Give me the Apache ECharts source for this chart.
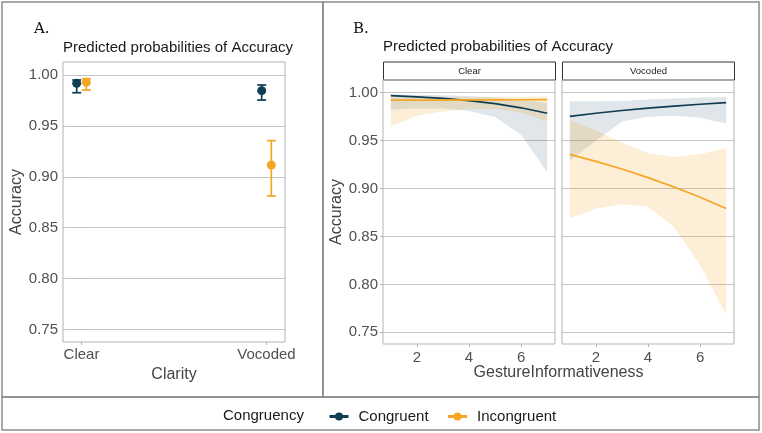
<!DOCTYPE html>
<html><head><meta charset="utf-8">
<script src="https://cdn.jsdelivr.net/npm/echarts@6/dist/echarts.min.js"></script>
<style>html,body{margin:0;padding:0;background:#fff}#c{width:762px;height:433px}</style>
</head><body><div id="c"></div>
<script>
// ---- Panel A data ----
const clarity = ['Clear', 'Vocoded'];
const accCongruent      = [0.9918, 0.9846];
const accCongruentLow   = [0.9826, 0.9754];
const accCongruentHigh  = [0.9951, 0.9902];
const accIncongruent     = [0.9928, 0.9116];
const accIncongruentLow  = [0.9853, 0.8811];
const accIncongruentHigh = [0.9964, 0.9355];

// ---- Panel B data ----
const gesture = [1, 2, 3, 4, 5, 6, 7];
const clearCongFit  = [0.9969, 0.9957, 0.9941, 0.9918, 0.9886, 0.9843, 0.9786];
const clearCongLow  = [0.9823, 0.9835, 0.9835, 0.9810, 0.9747, 0.9560, 0.9172];
const clearCongHigh = [0.9985, 0.9980, 0.9975, 0.9965, 0.9950, 0.9925, 0.9895];
const clearIncFit   = [0.9922, 0.9923, 0.9924, 0.9925, 0.9926, 0.9927, 0.9928];
const clearIncLow   = [0.9648, 0.9760, 0.9805, 0.9830, 0.9830, 0.9790, 0.9700];
const clearIncHigh  = [0.9960, 0.9957, 0.9955, 0.9955, 0.9955, 0.9957, 0.9960];
const vocCongFit    = [0.9753, 0.9786, 0.9815, 0.9840, 0.9861, 0.9880, 0.9896];
const vocCongLow    = [0.9290, 0.9500, 0.9700, 0.9750, 0.9760, 0.9740, 0.9680];
const vocCongHigh   = [0.9910, 0.9910, 0.9915, 0.9930, 0.9940, 0.9950, 0.9955];
const vocIncFit     = [0.9357, 0.9284, 0.9204, 0.9114, 0.9016, 0.8909, 0.8792];
const vocIncLow     = [0.8690, 0.8790, 0.8840, 0.8810, 0.8600, 0.8200, 0.7680];
const vocIncHigh    = [0.9710, 0.9605, 0.9480, 0.9370, 0.9330, 0.9360, 0.9420];

// ---- tick labels ----
const yTicks = [0.75, 0.80, 0.85, 0.90, 0.95, 1.00];
const gestureTicks = [2, 4, 6];
const clarityTicks = [0, 1];

const C_CONG = '#0f3d52';
const C_INC = '#f5a623';
const DODGE = 0.026;
const TICK_COLOR = '#505050';
const GRID_COLOR = '#c6c6c6';
const BORDER = '#b3b3b3';
const FONT = 'Liberation Sans, Arial, sans-serif';

function yAxisCfg(idx, withLabels, name) {
  return {
    type: 'value', gridIndex: idx,
    min: idx === 0 ? 0.7376 : 0.7378, max: idx === 0 ? 1.0128 : 1.0133,
    axisLine: {show: false},
    axisTick: {show: withLabels, customValues: yTicks, length: 3, lineStyle: {color: BORDER}},
    axisLabel: {show: withLabels, customValues: yTicks, formatter: v => v.toFixed(2),
      color: TICK_COLOR, fontSize: 15, fontFamily: FONT, margin: 5},
    splitLine: {show: true, lineStyle: {color: GRID_COLOR, width: 1.2}},
    name: name || '', nameLocation: 'middle', nameGap: 36,
    nameTextStyle: {color: '#444', fontSize: 16, fontFamily: FONT}
  };
}
function xGestureAxis(idx) {
  return {
    type: 'value', gridIndex: idx, min: 0.7, max: 7.3,
    axisLine: {show: false},
    axisTick: {show: true, customValues: gestureTicks, length: 3, lineStyle: {color: BORDER}},
    axisLabel: {customValues: gestureTicks, color: TICK_COLOR, fontSize: 15, fontFamily: FONT, margin: 6},
    splitLine: {show: false}
  };
}

function ribbon(gridIdx, xs, lo, hi, color, opacity) {
  return {
    type: 'custom', name: 'ribbon', xAxisIndex: gridIdx, yAxisIndex: gridIdx, silent: true, z: 1,
    data: xs.map((x, i) => [x, lo[i], hi[i]]),
    encode: {x: 0, y: [1, 2]},
    renderItem: function (params, api) {
      if (params.dataIndex !== 0) return null;
      const pts = [];
      for (let i = 0; i < xs.length; i++) pts.push(api.coord([xs[i], hi[i]]));
      for (let i = xs.length - 1; i >= 0; i--) pts.push(api.coord([xs[i], lo[i]]));
      return {type: 'polygon', shape: {points: pts}, style: {fill: color, opacity: opacity, stroke: null}};
    }
  };
}
function fitLine(gridIdx, xs, ys, name, color) {
  return {
    type: 'line', name: name, xAxisIndex: gridIdx, yAxisIndex: gridIdx, z: 3,
    data: xs.map((x, i) => [x, ys[i]]),
    showSymbol: false, symbol: 'circle', color: color,
    lineStyle: {color: color, width: 1.7}, silent: true
  };
}
function errorBars(vals, lo, hi, shift, color) {
  return {
    type: 'custom', name: 'err', xAxisIndex: 0, yAxisIndex: 0, z: 3, silent: true,
    data: vals.map((v, i) => [i + shift, v, lo[i], hi[i]]),
    encode: {x: 0, y: [1, 2, 3]},
    renderItem: function (params, api) {
      const x = api.value(0);
      const a = api.coord([x, api.value(2)]);
      const b = api.coord([x, api.value(3)]);
      const w = 4.5;
      const st = {stroke: color, lineWidth: 1.7};
      return {type: 'group', children: [
        {type: 'line', shape: {x1: a[0], y1: a[1], x2: b[0], y2: b[1]}, style: st},
        {type: 'line', shape: {x1: a[0] - w, y1: a[1], x2: a[0] + w, y2: a[1]}, style: st},
        {type: 'line', shape: {x1: b[0] - w, y1: b[1], x2: b[0] + w, y2: b[1]}, style: st}
      ]};
    }
  };
}

const frame = {fill: 'none', stroke: '#8c8c8c', lineWidth: 1.5};
const titleStyle = {fill: '#1a1a1a', fontSize: 15, fontFamily: FONT};

const option = {
  animation: false,
  backgroundColor: '#fff',
  grid: [
    {left: 63, top: 62, width: 222, height: 280, show: true, borderColor: BORDER, borderWidth: 1, backgroundColor: 'transparent', z: 4},
    {left: 383, top: 80, width: 172, height: 264, show: true, borderColor: BORDER, borderWidth: 1, backgroundColor: 'transparent', z: 4},
    {left: 562, top: 80, width: 172, height: 264, show: true, borderColor: BORDER, borderWidth: 1, backgroundColor: 'transparent', z: 4}
  ],
  xAxis: [
    {
      type: 'value', gridIndex: 0, min: -0.1, max: 1.1,
      axisLine: {show: false},
      axisTick: {show: true, customValues: clarityTicks, length: 3, lineStyle: {color: BORDER}},
      axisLabel: {customValues: clarityTicks, formatter: v => clarity[Math.round(v)] || '',
        color: TICK_COLOR, fontSize: 15, fontFamily: FONT, margin: 5},
      splitLine: {show: false},
      name: 'Clarity', nameLocation: 'middle', nameGap: 22,
      nameTextStyle: {color: '#444', fontSize: 16, fontFamily: FONT}
    },
    xGestureAxis(1), xGestureAxis(2)
  ],
  yAxis: [yAxisCfg(0, true, 'Accuracy'), yAxisCfg(1, true, 'Accuracy'), yAxisCfg(2, false, '')],
  legend: {
    left: 323, top: 404, itemWidth: 19, itemHeight: 10, itemGap: 18,
    data: ['Congruent', 'Incongruent'],
    lineStyle: {width: 3},
    textStyle: {color: '#1a1a1a', fontSize: 15, fontFamily: FONT, padding: [0, 0, 0, 5]},
    selectedMode: false
  },
  series: [
    fitLine(1, gesture, clearCongFit, 'Congruent', C_CONG),
    fitLine(1, gesture, clearIncFit, 'Incongruent', C_INC),
    fitLine(2, gesture, vocCongFit, 'Congruent', C_CONG),
    fitLine(2, gesture, vocIncFit, 'Incongruent', C_INC),
    ribbon(1, gesture, clearCongLow, clearCongHigh, C_CONG, 0.13),
    ribbon(1, gesture, clearIncLow, clearIncHigh, C_INC, 0.18),
    ribbon(2, gesture, vocCongLow, vocCongHigh, C_CONG, 0.13),
    ribbon(2, gesture, vocIncLow, vocIncHigh, C_INC, 0.18),
    errorBars(accCongruent, accCongruentLow, accCongruentHigh, -DODGE, C_CONG),
    errorBars(accIncongruent, accIncongruentLow, accIncongruentHigh, DODGE, C_INC),
    {type: 'scatter', name: 'ptsC', xAxisIndex: 0, yAxisIndex: 0, z: 4, silent: true,
      symbolSize: 9, itemStyle: {color: C_CONG, opacity: 1},
      data: accCongruent.map((v, i) => [i - DODGE, v])},
    {type: 'scatter', name: 'ptsI', xAxisIndex: 0, yAxisIndex: 0, z: 4, silent: true,
      symbolSize: 9, itemStyle: {color: C_INC, opacity: 1},
      data: accIncongruent.map((v, i) => [i + DODGE, v])}
  ],
  graphic: [
    {type: 'rect', shape: {x: 2, y: 2, width: 321, height: 395}, style: frame, silent: true},
    {type: 'rect', shape: {x: 323, y: 2, width: 436, height: 395}, style: frame, silent: true},
    {type: 'rect', shape: {x: 2, y: 397, width: 757, height: 33}, style: frame, silent: true},
    {type: 'text', x: 34, y: 29, style: {text: 'A.', fill: '#111', fontSize: 15, fontFamily: 'DejaVu Serif, serif', verticalAlign: 'middle'}},
    {type: 'text', x: 353, y: 29, style: {text: 'B.', fill: '#111', fontSize: 15, fontFamily: 'DejaVu Serif, serif', verticalAlign: 'middle'}},
    {type: 'text', x: 63, y: 48, style: Object.assign({text: 'Predicted probabilities of Accuracy', verticalAlign: 'middle'}, titleStyle)},
    {type: 'text', x: 383, y: 47, style: Object.assign({text: 'Predicted probabilities of Accuracy', verticalAlign: 'middle'}, titleStyle)},
    {type: 'rect', shape: {x: 383.5, y: 62, width: 172, height: 18}, style: {fill: '#fff', stroke: '#333', lineWidth: 1}},
    {type: 'rect', shape: {x: 562.5, y: 62, width: 172, height: 18}, style: {fill: '#fff', stroke: '#333', lineWidth: 1}},
    {type: 'text', x: 469.5, y: 71, style: {text: 'Clear', fill: '#1a1a1a', fontSize: 9.5, fontFamily: FONT, align: 'center', verticalAlign: 'middle'}},
    {type: 'text', x: 648.5, y: 71, style: {text: 'Vocoded', fill: '#1a1a1a', fontSize: 9.5, fontFamily: FONT, align: 'center', verticalAlign: 'middle'}},
    {type: 'text', x: 558.5, y: 373, style: {text: 'GestureInformativeness', fill: '#444', fontSize: 16, fontFamily: FONT, align: 'center', verticalAlign: 'middle'}},
    {type: 'text', x: 223, y: 415.5, style: {text: 'Congruency', fill: '#1a1a1a', fontSize: 15, fontFamily: FONT, verticalAlign: 'middle'}}
  ]
};
const chart = echarts.init(document.getElementById('c'), null, {renderer: 'canvas'});
chart.setOption(option);
</script></body></html>
